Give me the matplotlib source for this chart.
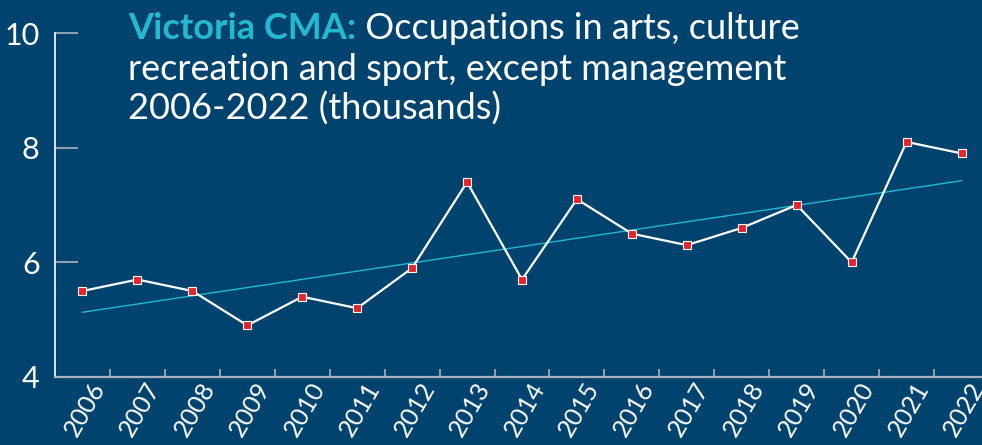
import numpy as np
import matplotlib
matplotlib.use('Agg')
import matplotlib.pyplot as plt
import matplotlib.transforms as mtransforms

# Data (thousands)
years = ['2006', '2007', '2008', '2009', '2010', '2011', '2012', '2013', '2014',
         '2015', '2016', '2017', '2018', '2019', '2020', '2021', '2022']
employment = [5.5, 5.7, 5.5, 4.9, 5.4, 5.2, 5.9, 7.4, 5.7,
              7.1, 6.5, 6.3, 6.6, 7.0, 6.0, 8.1, 7.9]
yticks = [4, 6, 8, 10]

bg = '#00436f'
cyan = '#22b9d1'
red = '#e8232b'
grey = '#a9b4c0'

font = 'Lato'

fig = plt.figure(figsize=(9.82, 4.45), dpi=100, facecolor=bg)
ax = fig.add_axes([55 / 982, (445 - 377) / 445, 934 / 982, 344 / 445])
ax.set_facecolor(bg)

x = np.arange(len(years))
ax.plot(x, employment, color='white', lw=1.6, zorder=3,
        marker='s', ms=6, mfc=red, mec='white', mew=0.8)

# linear trend line
slope, icpt = np.polyfit(x, employment, 1)
ax.plot(x, slope * x + icpt, color=cyan, lw=1.0, zorder=2)

ax.set_xlim(-0.5, len(years) - 0.5)
ax.set_ylim(4, 10)

# y axis
ax.set_yticks(yticks)
ax.tick_params(axis='y', direction='in', length=16.5, width=1.2, color=grey,
               labelcolor='white', labelsize=22, pad=11)
for lbl in ax.get_yticklabels():
    lbl.set_family(font)

# x axis: ticks on category boundaries, labels on centres
ax.set_xticks(x)
ax.set_xticks(np.arange(0.5, len(years) - 0.5), minor=True)
ax.tick_params(axis='x', which='major', length=0, pad=0)
ax.tick_params(axis='x', which='minor', direction='in', length=6, width=1.2, color=grey)
ax.set_xticklabels(years, rotation=60, ha='right', va='center', rotation_mode='anchor',
                   color='white', fontsize=18, family=font)
shift = mtransforms.ScaledTranslation(17 / 100, -7 / 100, fig.dpi_scale_trans)
for lbl in ax.get_xticklabels():
    lbl.set_transform(lbl.get_transform() + shift)

for side in ['top', 'right']:
    ax.spines[side].set_visible(False)
ax.spines['left'].set_color('white')
ax.spines['left'].set_linewidth(1.2)
ax.spines['bottom'].set_color(grey)
ax.spines['bottom'].set_linewidth(1.6)

# title: cyan bold lead-in, then white text on the same baseline
tsize = 26
t1 = fig.text(128 / 982, 1 - 39 / 445, 'Victoria CMA:', color=cyan, fontsize=tsize,
              fontweight='bold', family=font, va='baseline')
fig.canvas.draw()
bb = t1.get_window_extent()
fig.text(bb.x1 / 982, 1 - 39 / 445, ' Occupations in arts, culture', color='white',
         fontsize=tsize, family=font, va='baseline')
fig.text(128 / 982, 1 - 80 / 445, 'recreation and sport, except management', color='white',
         fontsize=tsize, family=font, va='baseline')
fig.text(128 / 982, 1 - 120 / 445, '2006-2022 (thousands)', color='white',
         fontsize=tsize, family=font, va='baseline')

fig.savefig('out.png', dpi=100, facecolor=bg)
